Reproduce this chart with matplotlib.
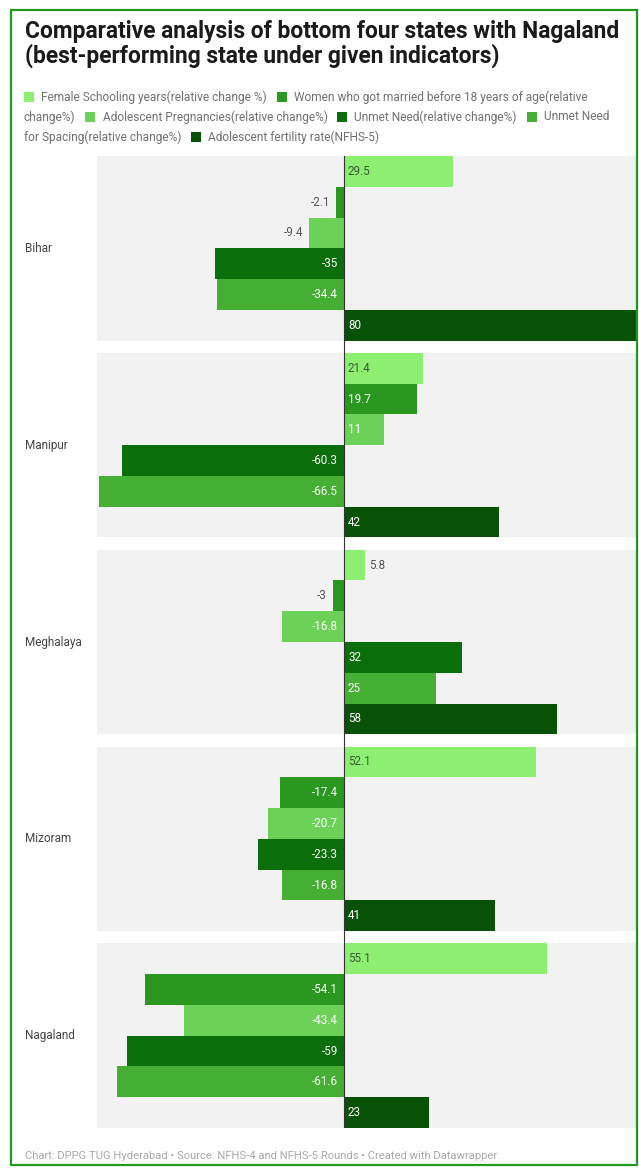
import matplotlib
matplotlib.use("Agg")
import matplotlib.pyplot as plt
from matplotlib.patches import Rectangle

states = ["Bihar", "Manipur", "Meghalaya", "Mizoram", "Nagaland"]
series_names = [
    "Female Schooling years(relative change %)",
    "Women who got married before 18 years of age(relative change%)",
    "Adolescent Pregnancies(relative change%)",
    "Unmet Need(relative change%)",
    "Unmet Need for Spacing(relative change%)",
    "Adolescent fertility rate(NFHS-5)",
]
female_schooling = [29.5, 21.4, 5.8, 52.1, 55.1]
married_before_18 = [-2.1, 19.7, -3, -17.4, -54.1]
adolescent_preg = [-9.4, 11, -16.8, -20.7, -43.4]
unmet_need = [-35, -60.3, 32, -23.3, -59]
unmet_spacing = [-34.4, -66.5, 25, -16.8, -61.6]
adol_fertility = [80, 42, 58, 41, 23]

series_values = [female_schooling, married_before_18, adolescent_preg,
                 unmet_need, unmet_spacing, adol_fertility]
colors = ["#8CEF72", "#2A981E", "#6BD257", "#0A6E0A", "#45AF33", "#075207"]
label_colors = ["#3a5a30", "white", "white", "white", "white", "white"]

title = "Comparative analysis of bottom four states with Nagaland\n(best-performing state under given indicators)"
footer = "Chart: DPPG TUG Hyderabad \u2022 Source: NFHS-4 and NFHS-5 Rounds \u2022 Created with Datawrapper"

W, H = 639, 1170
fig = plt.figure(figsize=(W / 100, H / 100), dpi=100)
fig.patch.set_facecolor("white")
plt.rcParams["font.family"] = ["Roboto", "DejaVu Sans"]

def fx(px):
    return px / W

def fy(py):
    return 1 - py / H

# border
fig.add_artist(Rectangle((fx(11), fy(1165)), fx(626), 1160 / H - 5 / H, transform=fig.transFigure,
                         fill=False, edgecolor="#1f9a1f", linewidth=1.6))

# axes
ax_left, ax_right, ax_top, ax_bot = 97, 637, 156, 1128
ax = fig.add_axes([fx(ax_left), fy(ax_bot), (ax_right - ax_left) / W, (ax_bot - ax_top) / H])
ax.set_facecolor("none")
xmin, xmax = -67.1, 79.6
ax.set_xlim(xmin, xmax)

n = len(series_values)
pitch = n + 0.4
total = (len(states) - 1) * pitch + n
ax.set_ylim(total, 0)
for s in ["top", "bottom", "left", "right"]:
    ax.spines[s].set_visible(False)
ax.set_xticks([])
ax.set_yticks([])

FS = 8.4
for gi, st in enumerate(states):
    y0 = gi * pitch
    ax.axhspan(y0, y0 + n, color="#f2f2f2", zorder=0, lw=0)
    ax.annotate(st, xy=(0, y0 + n / 2), xycoords=("axes fraction", "data"),
                xytext=(25 - ax_left, 0), textcoords="offset pixels",
                ha="left", va="center", fontsize=8.5, color="#444444")
    for si in range(n):
        v = series_values[si][gi]
        yc = y0 + si + 0.5
        ax.barh(yc, v, height=1.0, color=colors[si], zorder=2, lw=0)
        lab = f"{v:g}"
        if abs(v) >= 10:
            if v > 0:
                ax.annotate(lab, xy=(0, yc), xytext=(4, 0), textcoords="offset pixels",
                            ha="left", va="center", fontsize=FS, color=label_colors[si], zorder=4)
            else:
                ax.annotate(lab, xy=(0, yc), xytext=(-6, 0), textcoords="offset pixels",
                            ha="right", va="center", fontsize=FS, color=label_colors[si], zorder=4)
        else:
            if v > 0:
                ax.annotate(lab, xy=(v, yc), xytext=(4, 0), textcoords="offset pixels",
                            ha="left", va="center", fontsize=FS, color="#555555", zorder=4)
            else:
                ax.annotate(lab, xy=(v, yc), xytext=(-6, 0), textcoords="offset pixels",
                            ha="right", va="center", fontsize=FS, color="#555555", zorder=4)

ax.axvline(0, color="#333333", lw=0.8, zorder=3)

# title
fig.text(fx(25), fy(20), title, ha="left", va="top", fontsize=16.4, fontweight="bold",
         color="#1a1a1a", family="Roboto", linespacing=1.05)

# legend (flowing layout, words wrapped like the original)
fig.canvas.draw()
renderer = fig.canvas.get_renderer()
leg_fs = 8.6
leg_font = "Roboto"
x_start, x_max = 24, 622
line_y = [97, 117, 137]
sq = 10

def text_w(s):
    t = fig.text(0, 0, s, fontsize=leg_fs, family=leg_font)
    w = t.get_window_extent(renderer).width
    t.remove()
    return w

line_idx = 0
x = x_start
for si, name in enumerate(series_names):
    if x + sq + 4 > x_max:
        line_idx += 1
        x = x_start
    fig.add_artist(Rectangle((fx(x), fy(line_y[line_idx] + sq / 2)), sq / W, sq / H,
                             transform=fig.transFigure, facecolor=colors[si], edgecolor="none"))
    x += sq + 7
    seg = ""
    seg_x = x
    for word in name.split(" "):
        cand = word if seg == "" else seg + " " + word
        if seg_x + text_w(cand) > x_max and seg != "":
            fig.text(fx(seg_x), fy(line_y[line_idx]), seg, ha="left", va="center",
                     fontsize=leg_fs, family=leg_font, color="#707070")
            line_idx += 1
            seg_x = x_start
            seg = word
        else:
            seg = cand
    fig.text(fx(seg_x), fy(line_y[line_idx]), seg, ha="left", va="center",
             fontsize=leg_fs, family=leg_font, color="#707070")
    x = seg_x + text_w(seg) + 10

# footer
fig.text(fx(25), fy(1156), footer, ha="left", va="center", fontsize=8.1, color="#a8a8a8",
         family="Roboto")

fig.savefig("out.png", dpi=100, facecolor="white")
